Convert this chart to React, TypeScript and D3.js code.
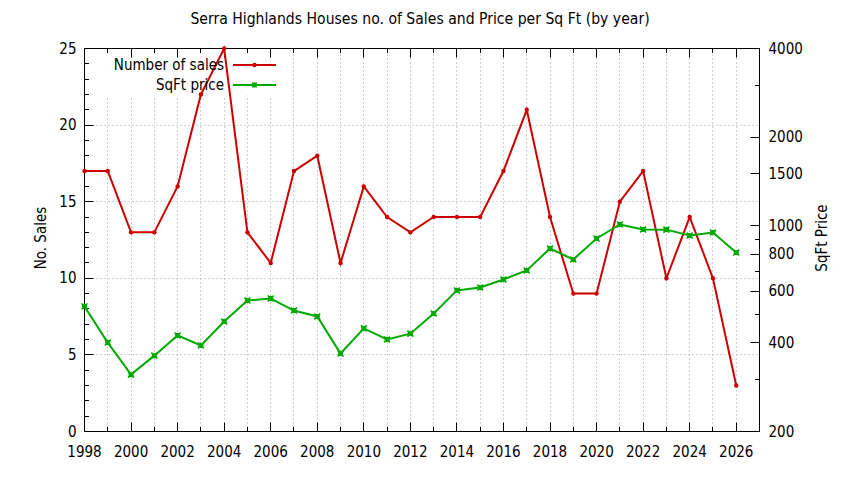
import React from "react";
import * as d3 from "d3";

const years = [1998, 1999, 2000, 2001, 2002, 2003, 2004, 2005, 2006, 2007, 2008, 2009, 2010, 2011, 2012, 2013, 2014, 2015, 2016, 2017, 2018, 2019, 2020, 2021, 2022, 2023, 2024, 2025, 2026];
const sales = [17, 17, 13, 13, 16, 22, 25, 13, 11, 17, 18, 11, 16, 14, 13, 14, 14, 14, 17, 21, 14, 9, 9, 15, 17, 10, 14, 10, 3];
const sqftPrice = [532, 401, 312, 362, 424, 392, 473, 557, 566, 515, 492, 368, 448, 411, 430, 503, 603, 617, 657, 705, 837, 768, 905, 1010, 971, 970, 926, 949, 811];
const leftTicks = [0, 5, 10, 15, 20, 25];
const rightTicks = [200, 400, 600, 800, 1000, 1500, 2000, 4000];
const rightMinor = [300, 500, 700, 900, 3000];
const xLabelYears = [1998, 2000, 2002, 2004, 2006, 2008, 2010, 2012, 2014, 2016, 2018, 2020, 2022, 2024, 2026];

const W = 844, H = 480;
const L = 84.5, R = 759.5, T = 48.5, B = 431.5;
const FONT = "'DejaVu Sans Condensed', 'DejaVu Sans', sans-serif";
const RED = "#cc0000";
const GREEN = "#00aa00";
const px = (v: number) => Math.round(v - 0.5) + 0.5;

export default function App() {
  const x = d3.scaleLinear().domain([1998, 2027]).range([L, R]);
  const y = d3.scaleLinear().domain([0, 25]).range([B, T]);
  const y2 = d3.scaleLog().domain([200, 4000]).range([B, T]);

  const salesLine = d3.line<number>().x((_, i) => x(years[i])).y((d) => y(d))(sales) || "";
  const priceLine = d3.line<number>().x((_, i) => x(years[i])).y((d) => y2(d))(sqftPrice) || "";

  const yearTicks = d3.range(1998, 2027);
  const leftMinor = d3.range(0, 26).filter((v) => v % 5 !== 0);

  return (
    <div style={{ position: "absolute", left: 0, top: 0 }}>
      <svg width={W} height={H} style={{ display: "block", background: "#fff" }} fontFamily={FONT}>
        <rect x={0} y={0} width={W} height={H} fill="#fff" />
        {/* grid */}
        <g stroke="#a0a0a0" strokeWidth={1} strokeDasharray="1,3">
          {yearTicks.slice(1).map((yr) => (
            <line key={"gx" + yr} x1={px(x(yr))} x2={px(x(yr))} y1={B} y2={T} />
          ))}
          {leftTicks.slice(1, -1).map((v) => (
            <line key={"gy" + v} x1={L} x2={R} y1={px(y(v))} y2={px(y(v))} />
          ))}
        </g>
        {/* legend opaque box */}
        <rect x={100} y={T + 1} width={182} height={46} fill="#fff" />
        {/* ticks */}
        <g stroke="#000" strokeWidth={1}>
          {yearTicks.map((yr) => {
            const len = yr % 2 === 0 ? 9 : 4.5;
            return (
              <g key={"tx" + yr}>
                <line x1={px(x(yr))} x2={px(x(yr))} y1={B} y2={B - len} />
                <line x1={px(x(yr))} x2={px(x(yr))} y1={T} y2={T + len} />
              </g>
            );
          })}
          {leftTicks.map((v) => (
            <line key={"ty" + v} x1={L} x2={L + 9} y1={px(y(v))} y2={px(y(v))} />
          ))}
          {leftMinor.map((v) => (
            <line key={"tym" + v} x1={L} x2={L + 4.5} y1={px(y(v))} y2={px(y(v))} />
          ))}
          {rightTicks.map((v) => (
            <line key={"ty2" + v} x1={R} x2={R - 9} y1={px(y2(v))} y2={px(y2(v))} />
          ))}
          {rightMinor.map((v) => (
            <line key={"ty2m" + v} x1={R} x2={R - 4.5} y1={px(y2(v))} y2={px(y2(v))} />
          ))}
        </g>
        {/* border */}
        <rect x={L} y={T} width={R - L} height={B - T} fill="none" stroke="#000" strokeWidth={1} />
        {/* tick labels */}
        <g fontSize={15} fill="#000">
          {xLabelYears.map((yr) => (
            <text key={"lx" + yr} x={x(yr)} y={B + 25} textAnchor="middle">{yr}</text>
          ))}
          {leftTicks.map((v) => (
            <text key={"ly" + v} x={L - 8} y={y(v) + 5} textAnchor="end">{v}</text>
          ))}
          {rightTicks.map((v) => (
            <text key={"ly2" + v} x={R + 9} y={y2(v) + 5} textAnchor="start">{v}</text>
          ))}
        </g>
        {/* axis titles */}
        <text x={0} y={0} fontSize={15} textAnchor="middle" transform={`translate(46,${(T + B) / 2 - 2}) rotate(-90)`}>No. Sales</text>
        <text x={0} y={0} fontSize={15} textAnchor="middle" transform={`translate(827,${(T + B) / 2 - 2}) rotate(-90)`}>SqFt Price</text>
        <text x={420} y={24} fontSize={15.6} textAnchor="middle">Serra Highlands Houses no. of Sales and Price per Sq Ft (by year)</text>
        {/* series */}
        <path d={salesLine} fill="none" stroke={RED} strokeWidth={2} />
        <path d={priceLine} fill="none" stroke={GREEN} strokeWidth={2} />
        {sales.map((v, i) => (
          <circle key={"ps" + i} cx={x(years[i])} cy={y(v)} r={2.2} fill={RED} />
        ))}
        {sqftPrice.map((v, i) => (
          <g key={"pp" + i} stroke={GREEN} strokeWidth={1.5}>
            <rect x={x(years[i]) - 2.5} y={y2(v) - 2.5} width={5} height={5} fill={GREEN} stroke="none" />
            <line x1={x(years[i]) - 3} x2={x(years[i]) + 3} y1={y2(v) - 3} y2={y2(v) + 3} />
            <line x1={x(years[i]) - 3} x2={x(years[i]) + 3} y1={y2(v) + 3} y2={y2(v) - 3} />
          </g>
        ))}
        {/* legend */}
        <g fontSize={15}>
          <text x={224} y={70} textAnchor="end">Number of sales</text>
          <line x1={233} x2={276} y1={65} y2={65} stroke={RED} strokeWidth={2} />
          <circle cx={254.5} cy={65} r={2.2} fill={RED} />
          <text x={224} y={90} textAnchor="end">SqFt price</text>
          <line x1={233} x2={276} y1={85} y2={85} stroke={GREEN} strokeWidth={2} />
          <rect x={252} y={82.5} width={5} height={5} fill={GREEN} />
        </g>
      </svg>
    </div>
  );
}
